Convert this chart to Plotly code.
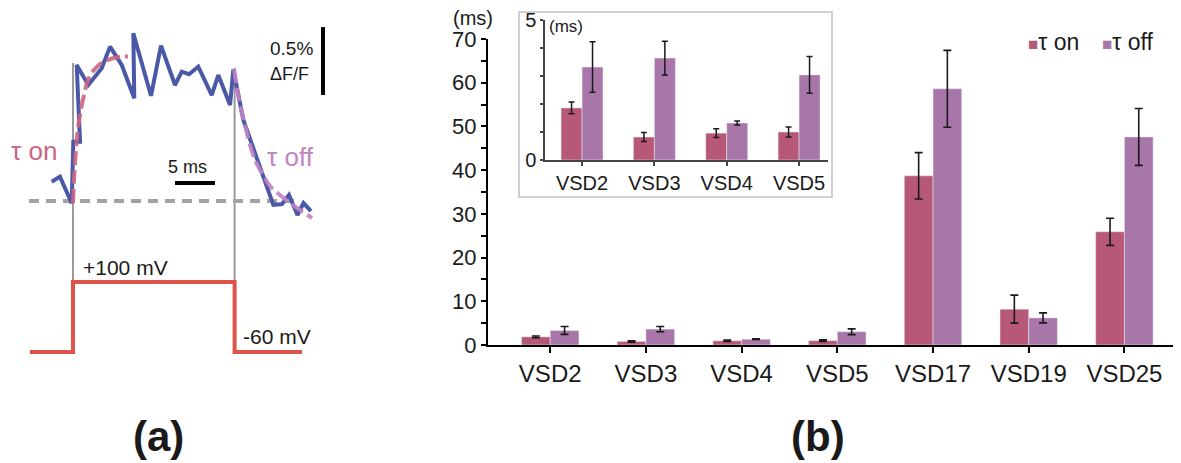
import plotly.graph_objects as go

# ---------------- data ----------------
categories = ['VSD2', 'VSD3', 'VSD4', 'VSD5', 'VSD17', 'VSD19', 'VSD25']
tau_on = [1.86, 0.82, 0.96, 1.00, 38.7, 8.2, 25.9]
tau_on_err = [0.21, 0.16, 0.16, 0.18, 5.3, 3.2, 3.1]
tau_off = [3.32, 3.64, 1.32, 3.04, 58.6, 6.2, 47.6]
tau_off_err = [0.90, 0.60, 0.07, 0.66, 8.8, 1.15, 6.5]
inset_categories = categories[:4]
series_names = ['τ on', 'τ off']

main_yticks = [0, 10, 20, 30, 40, 50, 60, 70]
inset_yticks = [0, 1, 2, 3, 4, 5]
inset_yticktext = ['0', '', '', '', '', '5']

# panel (a): fluorescence trace (time in ms from pulse onset, dF/F in %)
trace_t = [-2.66, -1.63, -0.16, 0.04, 0.88, 0.46, 1.91, 3.59, 4.63, 6.09, 7.66, 7.54,
           9.75, 11.0, 12.75, 13.59, 14.5, 15.66, 17.34, 18.16, 19.63, 20.04, 21.29,
           23.38, 25.04, 26.13, 27.0, 28.06, 28.81, 29.75]
trace_f = [0.142, 0.179, -0.017, 0.436, 0.436, 1.000, 0.853, 0.976, 1.135, 1.000, 0.755,
           1.233, 0.774, 1.142, 0.853, 0.951, 0.932, 0.988, 0.779, 0.926, 0.706, 0.968,
           0.596, 0.252, -0.029, -0.022, 0.044, -0.103, -0.015, -0.074]
fit_on_t = [0.0, 0.125, 0.375, 0.625, 0.875, 1.375, 1.875, 2.625, 3.375, 4.375, 5.375, 6.875]
fit_on_f = [-0.015, 0.154, 0.375, 0.537, 0.632, 0.779, 0.890, 0.963, 1.007, 1.037, 1.055, 1.063]
fit_off_t = [20.125, 20.5, 20.875, 21.5, 22.125, 22.875, 23.75, 24.625, 25.875, 27.125, 28.375, 29.875]
fit_off_f = [0.971, 0.831, 0.706, 0.559, 0.412, 0.287, 0.191, 0.110, 0.044, -0.015, -0.066, -0.125]
baseline_t = [-5.5, 28.4]
baseline_f = [0, 0]
step_t = [-5.375, 0, 0, 20.2, 20.2, 28.625]
step_v = [-60, -60, 100, 100, -60, -60]

# ---------------- layout geometry (page pixels; the page body adds an 8px offset) ----------------
OFF = 8
W, H = 1181 - OFF, 463 - OFF
FONT = 'Arial, Liberation Sans, sans-serif'
C_ON = '#b85878'
C_OFF = '#a976aa'
C_BLUE = '#4a58a8'
C_FIT_ON = '#cc6585'
C_FIT_OFF = '#c283c3'
C_RED = '#e0534b'


def px(x):
    return (x - OFF) / W


def py(y):
    return 1 - (y - OFF) / H


# panel (a) scales: pixels per ms / per % dF/F / per mV, and reference pixels
T0_X, MS_PX = 73, 8.0
F0_Y, PCT_PX = 201, 136.0
V0_Y, MV_PX = 352, 0.4375
A_LEFT, A_RIGHT, A_TOP, A_BOTTOM = OFF, 340, OFF, 463

fig = go.Figure()

# main bars
fig.add_trace(go.Bar(x=categories, y=tau_on, name=series_names[0], marker_color=C_ON,
                     offset=-0.3, width=0.3, xaxis='x', yaxis='y',
                     error_y=dict(type='data', array=tau_on_err, color='#1a1a1a', thickness=1.6, width=4)))
fig.add_trace(go.Bar(x=categories, y=tau_off, name=series_names[1], marker_color=C_OFF,
                     offset=0.0, width=0.3, xaxis='x', yaxis='y',
                     error_y=dict(type='data', array=tau_off_err, color='#1a1a1a', thickness=1.6, width=4)))

# inset bars
fig.add_trace(go.Bar(x=inset_categories, y=tau_on[:4], marker_color=C_ON,
                     offset=-0.29, width=0.29, xaxis='x2', yaxis='y2',
                     error_y=dict(type='data', array=tau_on_err[:4], color='#1a1a1a', thickness=1.5, width=3)))
fig.add_trace(go.Bar(x=inset_categories, y=tau_off[:4], marker_color=C_OFF,
                     offset=0.0, width=0.29, xaxis='x2', yaxis='y2',
                     error_y=dict(type='data', array=tau_off_err[:4], color='#1a1a1a', thickness=1.5, width=3)))

# panel (a)
fig.add_trace(go.Scatter(x=baseline_t, y=baseline_f, mode='lines',
                         line=dict(color='#a3a3a3', width=4, dash='10px,7px'), xaxis='x3', yaxis='y3'))
fig.add_trace(go.Scatter(x=step_t, y=step_v, mode='lines',
                         line=dict(color=C_RED, width=4), xaxis='x3', yaxis='y4'))
fig.add_trace(go.Scatter(x=trace_t, y=trace_f, mode='lines',
                         line=dict(color=C_BLUE, width=4), xaxis='x3', yaxis='y3'))
fig.add_trace(go.Scatter(x=fit_on_t, y=fit_on_f, mode='lines',
                         line=dict(color=C_FIT_ON, width=4, dash='14px,5px', shape='spline'),
                         xaxis='x3', yaxis='y3', opacity=0.9))
fig.add_trace(go.Scatter(x=fit_off_t, y=fit_off_f, mode='lines',
                         line=dict(color=C_FIT_OFF, width=4, dash='14px,5px', shape='spline'),
                         xaxis='x3', yaxis='y3', opacity=0.9))

shapes = [
    # inset frame
    dict(type='rect', xref='paper', yref='paper', x0=px(519), x1=px(832), y0=py(197), y1=py(12),
         line=dict(color='#d0d0d0', width=2), layer='below'),
    # pulse onset / offset markers
    dict(type='line', xref='x3', yref='y3', x0=0, x1=0, y0=-0.596, y1=1.015,
         line=dict(color='#9a9a9a', width=2), layer='below'),
    dict(type='line', xref='x3', yref='y3', x0=20.2, x1=20.2, y0=-0.596, y1=0.978,
         line=dict(color='#9a9a9a', width=2), layer='below'),
    # scale bars (5 ms, 0.5 %)
    dict(type='line', xref='x3', yref='y3', x0=12.75, x1=17.75, y0=0.132, y1=0.132,
         line=dict(color='black', width=4)),
    dict(type='line', xref='x3', yref='y3', x0=31.25, x1=31.25, y0=0.779, y1=1.279,
         line=dict(color='black', width=4)),
]


def ann(text, x, y, size, color='#1a1a1a', xanchor='center', bold=False):
    return dict(text=f'<b>{text}</b>' if bold else text, x=px(x), y=py(y), xref='paper', yref='paper',
                showarrow=False, xanchor=xanchor, yanchor='middle',
                font=dict(family=FONT, size=size, color=color))


def legend_text(name, color):
    return f'<span style="color:{color};font-size:17px">■</span>{name}'


annotations = [
    ann('(ms)', 473, 18, 20),
    ann('(ms)', 566, 27, 17),
    ann('τ on', 34, 151, 26, C_FIT_ON),
    ann('τ off', 290, 157, 26, C_FIT_OFF),
    ann('5 ms', 187, 167, 18),
    ann('0.5%', 315, 48, 19, xanchor='right'),
    ann('ΔF/F', 311, 74, 18, xanchor='right'),
    ann('+100 mV', 81, 267, 21, xanchor='left'),
    ann('-60 mV', 241, 336, 21, xanchor='left'),
    ann('(a)', 158, 436, 42, bold=True),
    ann('(b)', 818, 436, 42, bold=True),
    ann(legend_text(series_names[0], C_ON), 1026, 42, 23, xanchor='left'),
    ann(legend_text(series_names[1], C_OFF), 1100, 42, 23, xanchor='left'),
]

axis_common = dict(showgrid=False, zeroline=False)

fig.update_layout(
    width=W, height=H, margin=dict(l=0, r=0, t=0, b=0, pad=0, autoexpand=False),
    paper_bgcolor='white', plot_bgcolor='rgba(0,0,0,0)',
    font=dict(family=FONT, color='#1a1a1a'),
    barmode='overlay', bargap=0.4,
    shapes=shapes, annotations=annotations,
    showlegend=False,
    xaxis=dict(domain=[px(488), px(1178)], range=[-0.65, 6.56], type='category',
               showline=True, linecolor='black', linewidth=2, ticks='outside', ticklen=6,
               tickwidth=2, tickcolor='black', tickfont=dict(size=24), anchor='y', automargin=False,
               **axis_common),
    yaxis=dict(domain=[py(345), py(39)], range=[0, 70], tickvals=main_yticks,
               showline=True, linecolor='black', linewidth=2, ticks='outside', ticklen=5,
               tickwidth=2, tickcolor='black', tickfont=dict(size=22),
               minor=dict(dtick=5, ticks='outside', ticklen=5, tickwidth=2, tickcolor='black', showgrid=False),
               anchor='x', automargin=False, **axis_common),
    xaxis2=dict(domain=[px(545), px(828)], range=[-0.512, 3.40], type='category',
                showline=True, linecolor='#444', linewidth=1.5, ticks='outside', ticklen=4,
                tickwidth=1.5, tickcolor='#444', tickfont=dict(size=20), anchor='y2', automargin=False,
                **axis_common),
    yaxis2=dict(domain=[py(160), py(20)], range=[0, 5], tickvals=inset_yticks, ticktext=inset_yticktext,
                showline=True, linecolor='#444', linewidth=1.5, ticks='outside', ticklen=3,
                tickwidth=1.5, tickcolor='#444', tickfont=dict(size=20), anchor='x2', automargin=False,
                **axis_common),
    xaxis3=dict(domain=[px(A_LEFT), px(A_RIGHT)],
                range=[(A_LEFT - T0_X) / MS_PX, (A_RIGHT - T0_X) / MS_PX],
                visible=False, anchor='y3', **axis_common),
    yaxis3=dict(domain=[py(A_BOTTOM), py(A_TOP)],
                range=[(F0_Y - A_BOTTOM) / PCT_PX, (F0_Y - A_TOP) / PCT_PX],
                visible=False, anchor='x3', **axis_common),
    yaxis4=dict(range=[-60 + (V0_Y - A_BOTTOM) / MV_PX, -60 + (V0_Y - A_TOP) / MV_PX],
                visible=False, overlaying='y3', anchor='x3', **axis_common),
)

fig.write_html('out.html')
